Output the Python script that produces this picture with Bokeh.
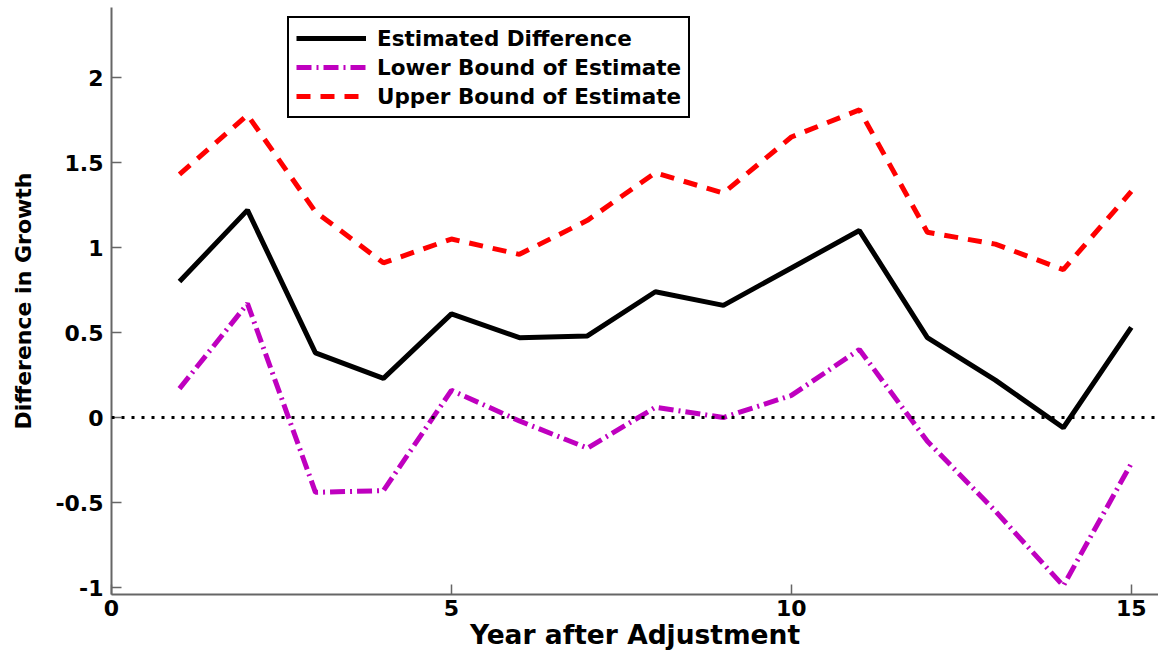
from bokeh.plotting import figure
from bokeh.models import Span, FixedTicker, Legend, LegendItem, Range1d
from bokeh.embed import file_html
from bokeh.resources import INLINE

years = list(range(1, 16))
estimate = [0.80, 1.22, 0.38, 0.23, 0.61, 0.47, 0.48, 0.74, 0.66, 0.88, 1.10, 0.47, 0.22, -0.06, 0.53]
lower = [0.17, 0.67, -0.44, -0.43, 0.16, -0.02, -0.18, 0.06, 0.00, 0.13, 0.40, -0.14, -0.55, -0.99, -0.27]
upper = [1.43, 1.78, 1.21, 0.91, 1.05, 0.96, 1.16, 1.44, 1.32, 1.65, 1.81, 1.09, 1.02, 0.87, 1.33]

x_ticks = [0, 5, 10, 15]
y_ticks = [-1, -0.5, 0, 0.5, 1, 1.5, 2]
y_tick_labels = ["-1", "-0.5", "0", "0.5", "1", "1.5", "2"]

FONT = "DejaVu Sans"
AX = "#666666"

p = figure(frame_width=1047, frame_height=587,
           min_border_left=111, min_border_right=0, min_border_top=7, min_border_bottom=61,
           x_range=Range1d(0, 15.40), y_range=Range1d(-1.041, 2.412),
           output_backend="svg", toolbar_location=None)
p.outline_line_color = None
p.grid.visible = False
p.background_fill_color = "white"

zero = Span(location=0, dimension="width", line_color="black", line_width=3, line_dash="3 7")
p.add_layout(zero)

r_est = p.line(years, estimate, line_color="black", line_width=5)
r_low = p.line(years, lower, line_color="#bf00bf", line_width=5, line_dash="15 5 2 5")
r_up = p.line(years, upper, line_color="#ff0000", line_width=5, line_dash="14 10")

for ax in (p.xaxis[0], p.yaxis[0]):
    ax.axis_line_color = AX
    ax.axis_line_width = 2
    ax.major_tick_line_color = AX
    ax.major_tick_line_width = 1.5
    ax.major_tick_in = 10
    ax.major_tick_out = 0
    ax.minor_tick_line_color = None
    ax.major_label_text_font = FONT
    ax.major_label_text_font_style = "bold"
    ax.major_label_text_font_size = "22px"
    ax.major_label_text_color = "black"
    ax.axis_label_text_font = FONT
    ax.axis_label_text_font_style = "bold"
    ax.axis_label_text_color = "black"

p.xaxis.ticker = FixedTicker(ticks=x_ticks)
p.yaxis.ticker = FixedTicker(ticks=y_ticks)
p.yaxis.major_label_overrides = {v: s for v, s in zip(y_ticks, y_tick_labels)}
p.xaxis.axis_label = "Year after Adjustment"
p.yaxis.axis_label = "Difference in Growth"
p.xaxis.axis_label_text_font_size = "26.5px"
p.yaxis.axis_label_text_font_size = "22px"
p.xaxis.major_label_standoff = 5
p.xaxis.axis_label_standoff = 0
p.yaxis.major_label_standoff = 8
p.yaxis.axis_label_standoff = 16

legend = Legend(items=[
    LegendItem(label="Estimated Difference", renderers=[r_est]),
    LegendItem(label="Lower Bound of Estimate", renderers=[r_low]),
    LegendItem(label="Upper Bound of Estimate", renderers=[r_up]),
], location=(176, 476))
legend.margin = 0
legend.padding = 7
legend.spacing = 3
legend.glyph_width = 70
legend.glyph_height = 26
legend.label_height = 26
legend.label_standoff = 11
legend.label_text_font = FONT
legend.label_text_font_style = "bold"
legend.label_text_font_size = "21.5px"
legend.label_text_color = "black"
legend.border_line_color = "black"
legend.border_line_alpha = 1.0
legend.border_line_width = 2
legend.background_fill_color = "white"
legend.background_fill_alpha = 1.0
p.add_layout(legend, "center")

open("out.html", "w").write(file_html(p, INLINE))
